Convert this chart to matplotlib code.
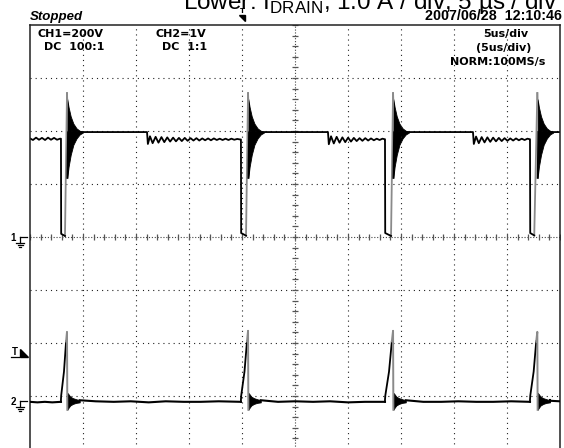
import matplotlib

matplotlib.use("Agg")
import matplotlib.pyplot as plt
import numpy as np
from matplotlib.lines import Line2D
from matplotlib.patches import Polygon
from matplotlib.transforms import Affine2D, blended_transform_factory

W, H = 564, 448

# scope settings
T_DIV = 5.0          # us/div, 10 div
CH1_VDIV = 200.0     # V/div, ground at centre
CH2_ADIV = 1.0       # A/div
CH2_POS = -3.09      # ch2 ground position (div)
TRIG_T = 20.0        # us
TRIG_LEVEL = 0.9     # A on ch2

# switching events (us)
drop_t = [2.92, 19.90, 33.49, 47.17]
rise_t = [3.30, 20.38, 34.06, 47.57]
peak_t = [3.49, 20.57, 34.25, 47.86]
valley_t0 = [11.04, 28.11, 41.79]

# ch1 drain voltage (V)
ch1_top = 396.0
ch1_peak = [543, 543, 543, 543]
ch1_floor = [[12, 4], [15, 5], [15, 4], [15, 6]]

lead_t = [0.0, 0.28, 0.57, 0.85, 1.13, 1.42, 1.70, 1.98, 2.27, 2.55, 2.83]
lead_v = [372, 366, 375, 367, 374, 366, 375, 367, 374, 367, 371]

valley1_t = [11.04, 11.12, 11.32, 11.57, 11.85, 12.12, 12.40, 12.67, 12.95, 13.22,
             13.50, 13.77, 14.05, 14.32, 14.60, 14.87, 15.15, 15.42, 15.70, 15.97,
             16.25, 16.52, 16.80, 17.07, 17.35, 17.62, 17.90, 18.17, 18.45, 18.72,
             19.00, 19.27, 19.55, 19.82]
valley1_v = [396, 351, 380, 354, 378, 356, 377, 358, 376, 360,
             375, 361, 374, 362, 374, 363, 373, 364, 373, 364,
             372, 365, 372, 365, 372, 366, 371, 366, 371, 366,
             371, 367, 370, 368]
valley2_t = [28.11, 28.19, 28.40, 28.66, 28.93, 29.20, 29.47, 29.74, 30.01, 30.28, 30.55,
             30.82, 31.09, 31.36, 31.63, 31.90, 32.17, 32.44, 32.71, 32.98, 33.25, 33.45]
valley2_v = [396, 350, 380, 353, 378, 356, 376, 358, 375, 360, 374,
             362, 373, 363, 373, 364, 372, 365, 371, 366, 371, 369]
valley3_t = [41.79, 41.87, 42.08, 42.34, 42.61, 42.88, 43.15, 43.42, 43.69, 43.96, 44.23,
             44.50, 44.77, 45.04, 45.31, 45.58, 45.85, 46.12, 46.39, 46.66, 46.93, 47.13]
valley3_v = [396, 351, 379, 354, 377, 357, 376, 359, 375, 361, 374,
             362, 373, 363, 372, 364, 372, 365, 371, 366, 371, 369]

# turn-off ringing envelope, time after the peak (us)
ring_dt = [0.03, 0.15, 0.35, 0.6, 0.9, 1.2, 1.5]
ring_hi = [520, 490, 455, 428, 410, 401, 397]
ring_lo = [223, 265, 310, 348, 372, 387, 394]

# ch2 drain current (A)
ch2_peak = [1.30, 1.32, 1.32, 1.30]
ramp_frac = [0.0, 0.04, 0.5, 0.85]
ramp_i = [0.02, 0.10, 0.55, 1.12]
ring2_dt = [0.03, 0.12, 0.3, 0.55, 0.85, 1.2]
ring2_hi = [0.15, 0.13, 0.08, 0.05, 0.03, 0.01]
ring2_lo = [-0.17, -0.14, -0.09, -0.06, -0.04, -0.03]
gap_t = [[0.0, 0.7, 1.4, 2.1, 2.92],
         [4.69, 6.2, 7.9, 9.5, 11.2, 12.8, 14.5, 16.1, 17.8, 19.90],
         [21.77, 23.4, 25.0, 26.7, 28.3, 30.0, 31.6, 33.49],
         [35.45, 37.1, 38.8, 40.4, 42.1, 43.7, 45.4, 47.17],
         [49.06, 50.0]]
gap_i = [[-0.02, -0.03, -0.02, -0.03, -0.02],
         [0.01, -0.01, -0.02, -0.01, -0.03, -0.01, -0.02, -0.02, -0.01, -0.02],
         [0.01, -0.02, -0.01, -0.02, -0.01, -0.03, -0.02, -0.02],
         [0.01, -0.02, -0.02, -0.01, -0.02, -0.02, -0.01, -0.02],
         [0.0, -0.01]]

fig = plt.figure(figsize=(W / 100, H / 100), dpi=100)
fig.patch.set_facecolor("white")
ax = fig.add_axes([30 / W, -1 / H, 530 / W, 424 / H])
ax.set_xlim(0, 10 * T_DIV)
ax.set_ylim(-4 * CH1_VDIV, 4 * CH1_VDIV)
ax.set_xticks([])
ax.set_yticks([])
for side in ("top", "left", "right", "bottom"):
    ax.spines[side].set_color("#222222")
    ax.spines[side].set_linewidth(1.1)
ax2 = ax.twinx()
ax2.set_ylim((-4 - CH2_POS) * CH2_ADIV, (4 - CH2_POS) * CH2_ADIV)
ax2.axis("off")

# graticule
gx = [T_DIV * k for k in range(1, 10) if k != 5]
gy = [CH1_VDIV * k for k in range(-3, 4) if k != 0]
ax.vlines(gx, -800, 800, colors="#222222", linestyles=(0, (1, 3.6)), lw=0.8)
ax.hlines(gy, 0, 50, colors="#222222", linestyles=(0, (1, 3.6)), lw=0.8)
ax.vlines([25], -800, 800, colors="#444444", linestyles=(0, (1, 1.6)), lw=0.8)
ax.hlines([0], 0, 50, colors="#444444", linestyles=(0, (1, 1.6)), lw=0.8)
ax.plot(np.arange(0, 50.01, 1.0), np.zeros(51), ls="none", marker="|",
        ms=4, mew=0.9, color="#555555")
ax.plot(np.full(41, 25.0), np.arange(-800, 801, 40), ls="none", marker="_",
        ms=4, mew=0.9, color="#555555")

# ch1 trace
valleys = [(valley1_t, valley1_v), (valley2_t, valley2_v), (valley3_t, valley3_v)]
bt, bv = list(lead_t), list(lead_v)
for i in range(4):
    bt += [drop_t[i], drop_t[i] + 0.02, rise_t[i], np.nan]
    bv += [bv[-1], ch1_floor[i][0], ch1_floor[i][1], np.nan]
    ax.plot([rise_t[i], peak_t[i]], [ch1_floor[i][1], ch1_peak[i]], color="#8a8a8a", lw=1.3)
    tp = peak_t[i]
    ax.fill_between([tp + d for d in ring_dt], ring_lo, ring_hi, color="black", lw=0.6)
    ax.plot([tp, tp + 0.02], [ch1_peak[i], ring_hi[0]], color="#8a8a8a", lw=1.3)
    bt += [tp + ring_dt[0], tp + 0.1]
    bv += [ring_lo[0], ch1_top]
    if i < 3:
        vt, vv = valleys[i]
        bt += list(vt)
        bv += list(vv)
    else:
        bt += [50.0]
        bv += [ch1_top]
ax.plot(bt, bv, color="black", lw=1.3)

# ch2 trace
for seg_t, seg_i in zip(gap_t, gap_i):
    ax2.plot(seg_t, seg_i, color="black", lw=1.5)
for i in range(4):
    span = peak_t[i] - drop_t[i]
    rt = [drop_t[i] + f * span for f in ramp_frac]
    ax2.plot([drop_t[i]] + rt, [gap_i[i][-1]] + ramp_i, color="black", lw=1.3)
    ax2.plot([rt[-1], peak_t[i], peak_t[i] + 0.03],
             [ramp_i[-1], ch2_peak[i], ring2_lo[0]], color="#8a8a8a", lw=1.4)
    tp = peak_t[i]
    ax2.fill_between([tp + d for d in ring2_dt], ring2_lo, ring2_hi, color="black", lw=0.6)
    ax2.plot([tp + ring2_dt[-1], gap_t[i + 1][0]], [ring2_hi[-1], gap_i[i + 1][0]],
             color="black", lw=1.5)

# pixel transform (image coords, y down)
pix = Affine2D().scale(1 / W, -1 / H).translate(0, 1) + fig.transFigure


def ypix(axis, v):
    return H - axis.transData.transform((0, v))[1]


def ground_mark(label, y):
    fig.text(13 / W, 1 - (y + 1) / H, label, fontsize=7, fontweight="bold",
             family="Liberation Sans", ha="center", va="center")
    for (x0, y0, x1, y1) in [(20, y, 27, y), (20, y, 20, y + 6), (16, y + 6, 24, y + 6),
                             (17.5, y + 8, 22.5, y + 8), (19, y + 10, 21, y + 10)]:
        fig.add_artist(Line2D([x0, x1], [y0, y1], transform=pix, color="black", lw=0.9))


ground_mark("1", ypix(ax, 0.0))
ground_mark("2", ypix(ax2, 0.0))
yt = ypix(ax2, TRIG_LEVEL)
fig.text(15 / W, 1 - (yt - 1) / H, "T", fontsize=7, fontweight="bold",
         family="Liberation Sans", ha="center", va="center")
fig.add_artist(Line2D([11, 19], [yt + 3.5, yt + 3.5], transform=pix, color="black", lw=0.9))
fig.add_artist(Polygon([[20, yt - 4], [20, yt + 4], [28, yt + 4]], closed=True,
                       transform=pix, color="black"))

# trigger position marker at top
bt_trans = blended_transform_factory(ax.transData, fig.transFigure)
fig.text(TRIG_T, 1 - 11 / H, "T", transform=bt_trans, fontsize=5, fontweight="bold",
         ha="center", va="center")
xt = ax.transData.transform((TRIG_T, 0))[0]
fig.add_artist(Polygon([[xt - 3, 15], [xt + 3, 15], [xt + 3, 21]], closed=True,
                       transform=pix, color="black"))

# texts
fig.text(183 / W, 1 - 9 / H, r"Lower: I$_{\mathregular{DRAIN}}$, 1.0 A / div, 5 µs / div",
         fontsize=17.5, family="Liberation Sans", ha="left", va="baseline")
fig.text(30 / W, 1 - 20 / H, "Stopped", fontsize=9.5, fontweight="bold", style="italic",
         family="Liberation Sans", ha="left", va="baseline")
fig.text(562 / W, 1 - 20 / H, "2007/06/28  12:10:46", fontsize=10.3, fontweight="bold",
         family="Liberation Sans", ha="right", va="baseline")
hdr = dict(fontsize=8, fontweight="bold", family="DejaVu Sans", va="center")
fig.text(104 / W, 1 - 34 / H, "CH1=200V", ha="right", **hdr)
fig.text(104 / W, 1 - 47 / H, "DC  100:1", ha="right", **hdr)
fig.text(206 / W, 1 - 34 / H, "CH2=1V", ha="right", **hdr)
fig.text(207 / W, 1 - 47 / H, "DC  1:1", ha="right", **hdr)
fig.text(506 / W, 1 - 34 / H, "5us/div", ha="center", **hdr)
fig.text(504 / W, 1 - 48 / H, "(5us/div)", ha="center", **hdr)
fig.text(498 / W, 1 - 62 / H, "NORM:100MS/s", ha="center", **hdr)

fig.savefig("out.png", dpi=100)
